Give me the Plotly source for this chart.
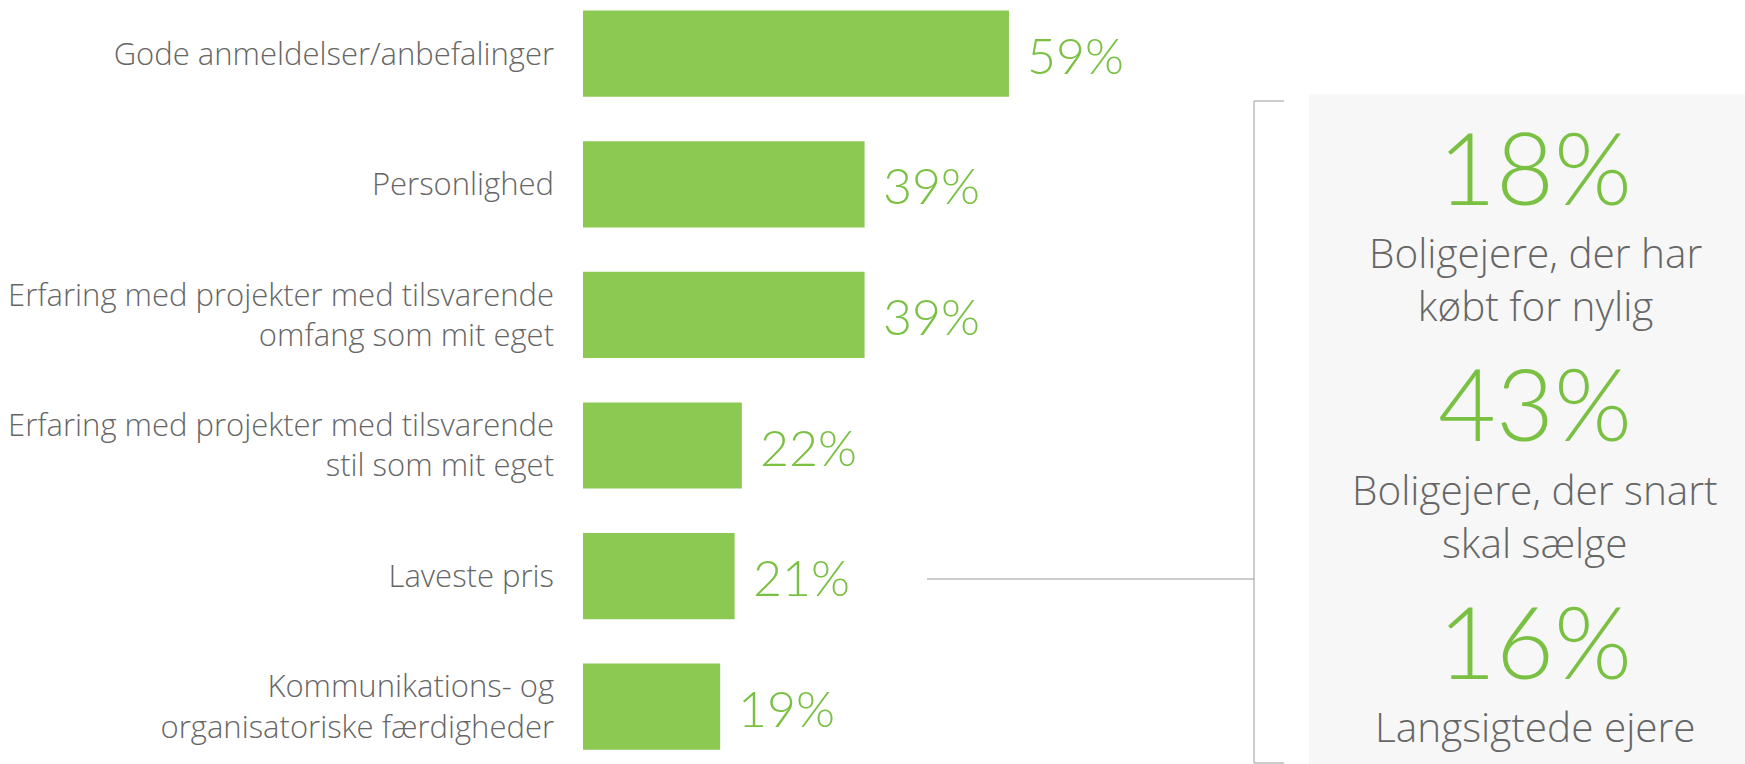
import plotly.graph_objects as go

categories = [
    "Gode anmeldelser/anbefalinger",
    "Personlighed",
    "Erfaring med projekter med tilsvarende<br>omfang som mit eget",
    "Erfaring med projekter med tilsvarende<br>stil som mit eget",
    "Laveste pris",
    "Kommunikations- og<br>organisatoriske færdigheder",
]
values = [59, 39, 39, 22, 21, 19]
value_labels = ["59%", "39%", "39%", "22%", "21%", "19%"]

panel_values = ["18%", "43%", "16%"]
panel_labels = [
    "Boligejere, der har<br>købt for nylig",
    "Boligejere, der snart<br>skal sælge",
    "Langsigtede ejere",
]

W, H = 1745, 764
BAR = "#8BC953"
GREEN_TXT = "#7AC143"
GREY_TXT = "#666666"
LINE = "#9a9a9a"
NUM_FONT = "Lato"
TXT_FONT = "Open Sans"

fig = go.Figure()
fig.add_trace(go.Bar(
    x=values, y=categories, orientation="h",
    marker=dict(color=BAR, line=dict(width=0)),
    hoverinfo="skip",
))

annotations = []
for c, v, t in zip(categories, values, value_labels):
    annotations.append(dict(
        x=v, y=c, xref="x", yref="y", text=t, showarrow=False,
        xanchor="left", yanchor="middle", xshift=16, yshift=-1,
        font=dict(family=NUM_FONT, size=50, color=GREEN_TXT, weight=300),
    ))

def py(p):
    return 1 - p / H

cx = 1535 / W
big_y = [166, 402, 640]
lab_y = [279, 516, 726]
for v, yy in zip(panel_values, big_y):
    annotations.append(dict(
        x=cx, y=py(yy), xref="paper", yref="paper", text=v, showarrow=False,
        xanchor="center", yanchor="middle",
        font=dict(family=NUM_FONT, size=100, color=GREEN_TXT, weight=300),
    ))
for t, yy in zip(panel_labels, lab_y):
    annotations.append(dict(
        x=cx, y=py(yy), xref="paper", yref="paper", text=t, showarrow=False,
        xanchor="center", yanchor="middle",
        font=dict(family=TXT_FONT, size=40.5, color=GREY_TXT, weight=300),
    ))

shapes = [
    dict(type="rect", xref="paper", yref="paper", x0=1309 / W, x1=1, y0=0, y1=py(94),
         fillcolor="#F7F7F7", line=dict(width=0), layer="below"),
    dict(type="line", xref="paper", yref="paper", x0=1254 / W, x1=1254 / W, y0=py(101), y1=py(763),
         line=dict(color=LINE, width=1)),
    dict(type="line", xref="paper", yref="paper", x0=1254 / W, x1=1284 / W, y0=py(101), y1=py(101),
         line=dict(color=LINE, width=1)),
    dict(type="line", xref="paper", yref="paper", x0=1254 / W, x1=1284 / W, y0=py(763), y1=py(763),
         line=dict(color=LINE, width=1)),
    dict(type="line", xref="paper", yref="paper", x0=927 / W, x1=1254 / W, y0=py(579), y1=py(579),
         line=dict(color=LINE, width=1)),
]

px_per_unit = 7.22
x0_px = 583
pitch = 130.6
c0 = 53.7

fig.update_layout(
    width=W, height=H,
    margin=dict(l=0, r=0, t=0, b=0),
    paper_bgcolor="white", plot_bgcolor="rgba(0,0,0,0)",
    showlegend=False,
    bargap=0.34,
    hovermode=False,
    xaxis=dict(domain=[x0_px / W, 1], range=[0, (W - x0_px) / px_per_unit],
               visible=False, fixedrange=True),
    yaxis=dict(type="category", categoryorder="array", categoryarray=categories,
               range=[(H - c0) / pitch, -c0 / pitch],
               showgrid=False, zeroline=False, showline=False, ticks="",
               ticklabelstandoff=28,
               tickfont=dict(family=TXT_FONT, size=31, color=GREY_TXT, weight=300),
               fixedrange=True),
    annotations=annotations,
    shapes=shapes,
)

fig.write_html(
    "out.html",
    config={"displayModeBar": False},
    post_script="document.body.style.margin='0';document.body.style.overflow='hidden';",
)
